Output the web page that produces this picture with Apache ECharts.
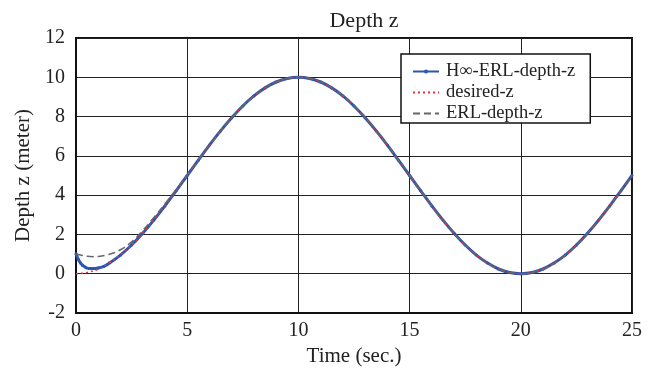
<!DOCTYPE html>
<html>
<head>
<meta charset="utf-8">
<title>Depth z</title>
<script src="https://cdn.jsdelivr.net/npm/echarts@6/dist/echarts.min.js"></script>
<style>
  html, body { margin: 0; padding: 0; background: #fff; }
  #chart { width: 659px; height: 372px; }
</style>
</head>
<body>
<div id="chart"></div>
<script>
// Reference trajectory (desired depth), sampled every 0.5 s
const desiredTime = [0,0.5,1,1.5,2,2.5,3,3.5,4,4.5,5,5.5,6,6.5,7,7.5,8,8.5,9,9.5,10,
  10.5,11,11.5,12,12.5,13,13.5,14,14.5,15,15.5,16,16.5,17,17.5,18,18.5,19,19.5,20,
  20.5,21,21.5,22,22.5,23,23.5,24,24.5,25];
const desiredZ = [0,0.06,0.24,0.55,0.95,1.46,2.06,2.73,3.45,4.22,5.0,5.78,6.55,7.27,7.94,8.54,9.05,9.46,9.76,9.94,10.0,
  9.94,9.76,9.46,9.05,8.54,7.94,7.27,6.55,5.78,5.0,4.22,3.45,2.73,2.06,1.46,0.95,0.55,0.24,0.06,0.0,
  0.06,0.24,0.55,0.95,1.46,2.06,2.73,3.45,4.22,5.0];

// H-infinity ERL controller response
const hinfTime = [0,0.1,0.2,0.3,0.45,0.6,0.8,1,1.25,1.5,2,2.5,3,3.5,4,4.5,5,5.5,6,6.5,7,7.5,8,8.5,9,9.5,10,
  10.5,11,11.5,12,12.5,13,13.5,14,14.5,15,15.5,16,16.5,17,17.5,18,18.5,19,19.5,20,
  20.5,21,21.5,22,22.5,23,23.5,24,24.5,25];
const hinfZ = [1.02,0.74,0.55,0.42,0.31,0.26,0.26,0.29,0.37,0.54,0.95,1.46,2.06,2.73,3.45,4.22,5.0,5.78,6.55,7.27,7.94,8.54,9.05,9.46,9.76,9.94,10.0,
  9.94,9.76,9.46,9.05,8.54,7.94,7.27,6.55,5.78,5.0,4.22,3.45,2.73,2.06,1.46,0.95,0.55,0.24,0.06,0.0,
  0.06,0.24,0.55,0.95,1.46,2.06,2.73,3.45,4.22,5.0];

// Plain ERL controller response
const erlTime = [0,0.25,0.5,0.75,1,1.5,2,2.5,3,3.5,4,4.5,5,5.5,6,6.5,7,7.5,8,8.5,9,9.5,10,
  10.5,11,11.5,12,12.5,13,13.5,14,14.5,15,15.5,16,16.5,17,17.5,18,18.5,19,19.5,20,
  20.5,21,21.5,22,22.5,23,23.5,24,24.5,25];
const erlZ = [1.02,0.94,0.89,0.87,0.88,0.99,1.22,1.62,2.2,2.86,3.56,4.28,5.03,5.79,6.55,7.27,7.94,8.54,9.05,9.46,9.76,9.94,10.0,
  9.94,9.76,9.46,9.05,8.54,7.94,7.27,6.55,5.78,5.0,4.22,3.45,2.73,2.06,1.46,0.95,0.55,0.24,0.06,0.0,
  0.06,0.24,0.55,0.95,1.46,2.06,2.73,3.45,4.22,5.0];

const xTicks = [0, 5, 10, 15, 20, 25];
const yTicks = [-2, 0, 2, 4, 6, 8, 10, 12];

const pairs = (t, v) => t.map((x, i) => [x, v[i]]);
const serif = '"Liberation Serif", "Times New Roman", serif';
const hidden = { color: 'rgba(0,0,0,0)', borderColor: 'rgba(0,0,0,0)', borderWidth: 0 };

const chart = echarts.init(document.getElementById('chart'), null, { renderer: 'canvas' });

chart.setOption({
  animation: false,
  backgroundColor: '#fff',
  title: {
    text: 'Depth z',
    left: 359,
    top: 5,
    textAlign: 'center',
    textStyle: { fontFamily: serif, fontSize: 22, fontWeight: 'normal', color: '#222' }
  },
  grid: {
    left: 76, right: 27, top: 38, bottom: 59,
    show: true, borderColor: '#111', borderWidth: 2, backgroundColor: 'transparent'
  },
  legend: {
    orient: 'vertical',
    left: 401, top: 54,
    padding: [8, 15, 0, 11],
    itemWidth: 26, itemHeight: 5, itemGap: 2,
    backgroundColor: '#fff',
    borderColor: '#111', borderWidth: 1.5, borderRadius: 0,
    textStyle: { fontFamily: serif, fontSize: 18.5, color: '#222', padding: [0, 0, 0, 2] },
    data: [
      { name: 'H\u221E-ERL-depth-z' },
      { name: 'desired-z', itemStyle: hidden },
      { name: 'ERL-depth-z', itemStyle: hidden }
    ]
  },
  xAxis: {
    type: 'value',
    min: 0, max: 25, interval: 5,
    name: 'Time (sec.)',
    nameLocation: 'middle', nameGap: 30,
    nameTextStyle: { fontFamily: serif, fontSize: 21, color: '#222' },
    axisLine: { show: true, onZero: false, lineStyle: { color: '#111', width: 2 } },
    axisTick: { show: false },
    axisLabel: {
      fontFamily: serif, fontSize: 20, color: '#222', margin: 8,
      formatter: v => (xTicks.includes(v) ? String(v) : '')
    },
    splitLine: { show: true, lineStyle: { color: '#222', width: 1 } }
  },
  yAxis: {
    type: 'value',
    min: -2, max: 12, interval: 2,
    name: 'Depth z (meter)',
    nameLocation: 'middle', nameGap: 40, nameRotate: 90,
    nameTextStyle: { fontFamily: serif, fontSize: 21, color: '#222' },
    axisLine: { show: true, onZero: false, lineStyle: { color: '#111', width: 2 } },
    axisTick: { show: false },
    axisLabel: {
      fontFamily: serif, fontSize: 20, color: '#222', margin: 11,
      formatter: v => (yTicks.includes(v) ? String(v) : '')
    },
    splitLine: { show: true, lineStyle: { color: '#222', width: 1 } }
  },
  series: [
    {
      name: 'H\u221E-ERL-depth-z',
      type: 'line',
      data: pairs(hinfTime, hinfZ),
      smooth: 0.4,
      symbol: 'circle', symbolSize: 3, showSymbol: true,
      itemStyle: { color: '#2a58b0' },
      lineStyle: { color: '#2a58b0', width: 3 },
      z: 2
    },
    {
      name: 'desired-z',
      type: 'line',
      data: pairs(desiredTime, desiredZ),
      smooth: 0.4,
      symbol: 'none',
      itemStyle: { color: '#e8303a' },
      lineStyle: { color: '#e8303a', width: 1.6, type: [2, 3] },
      z: 3
    },
    {
      name: 'ERL-depth-z',
      type: 'line',
      data: pairs(erlTime, erlZ),
      smooth: 0.4,
      symbol: 'none',
      itemStyle: { color: '#666' },
      lineStyle: { color: '#666', width: 1.5, type: [7, 4] },
      z: 4
    }
  ]
});
</script>
</body>
</html>
